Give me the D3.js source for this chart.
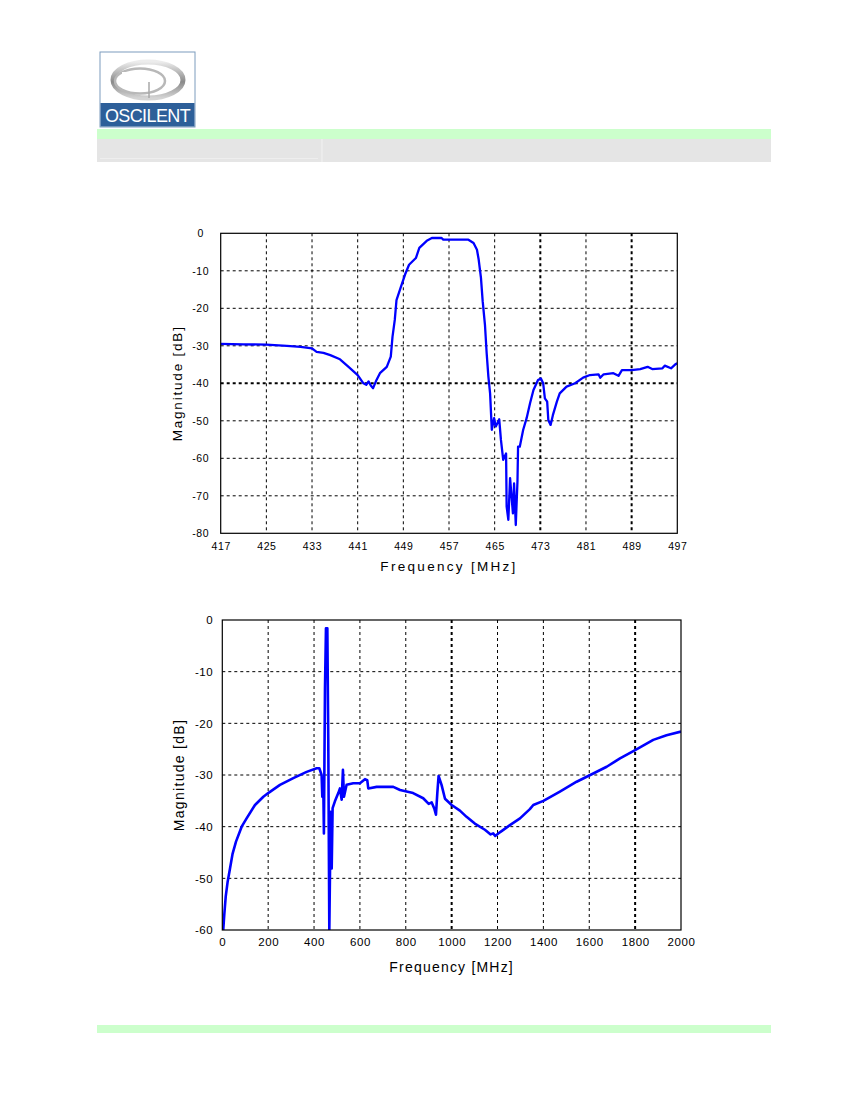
<!DOCTYPE html>
<html>
<head>
<meta charset="utf-8">
<script src="https://cdn.jsdelivr.net/npm/d3@7"></script>
<style>
  body { margin: 0; background: #fff; }
  svg { display: block; font-family: "Liberation Sans", Arial, sans-serif; }
</style>
</head>
<body>
<div id="page"></div>
<script>
// --- data ---
// narrow band sweep
const freq1 = [417, 421, 425, 428.6, 431, 433, 433.8, 435, 436.2, 437.9, 439.4, 441, 442, 442.5, 442.9, 443.3,
  443.7, 444.3, 444.9, 446.1, 446.8, 447.1, 447.5, 447.8, 448.5, 449.3, 450, 451.2, 451.8, 453.1, 454, 455.7,
  456, 458, 460.4, 461.3, 461.9, 462.2, 462.6, 462.9, 463.3, 463.6, 463.9, 464.2, 464.5, 464.9, 465.2, 465.5,
  465.8, 466.1, 466.5, 467, 467.1, 467.4, 467.7, 468.2, 468.4, 468.7, 469, 469.1, 469.4, 470, 470.6, 471.2,
  471.8, 472.6, 473.1, 473.5, 473.8, 474.2, 474.4, 474.8, 475.2, 475.9, 476.4, 477.6, 479.1, 480.5, 481.7, 483.2,
  483.5, 484.1, 485.8, 486.7, 487.3, 489, 490.5, 491.8, 492.6, 494.4, 494.8, 495.9, 496.7, 497];
const mag1 = [-29.5, -29.6, -29.7, -30.0, -30.3, -30.7, -31.6, -31.9, -32.5, -33.6, -35.6, -37.8, -40, -40.4, -39.5, -40.6,
  -41.3, -39.1, -37.3, -35.6, -32.9, -27.6, -23.1, -17.8, -14.6, -11, -8.4, -6.6, -3.9, -2, -1.25, -1.25,
  -1.7, -1.7, -1.7, -2.6, -4.4, -7, -11.9, -18.1, -24.4, -32, -38.2, -42.7, -52.4, -49.3, -51.5, -50.6,
  -49.6, -55.1, -60.4, -58.7, -72.9, -76.4, -65.3, -74.7, -66.7, -77.8, -66, -56.9, -56.9, -52.4, -49.3, -45.3,
  -41.8, -39.1, -38.7, -40, -44, -44.9, -49.8, -51.1, -48.5, -44.9, -42.7, -40.9, -40, -38.5, -37.8, -37.6,
  -38.5, -37.6, -37.3, -38, -36.5, -36.5, -36.2, -35.6, -36.2, -36, -35.3, -36, -34.9, -34.7];
const xTicks1 = [417, 425, 433, 441, 449, 457, 465, 473, 481, 489, 497];
const yTicks1 = [0, -10, -20, -30, -40, -50, -60, -70, -80];

// wide band sweep
const freq2 = [4, 9, 15, 23.5, 33.6, 45, 59.7, 84.4, 106, 142.5, 179, 200, 251.5, 309.6, 367.7, 411.5, 423, 433,
  436, 440, 443, 447.7, 452, 458, 462, 466.6, 472.6, 477, 481, 491, 505.7, 513, 520.5, 526, 530.5, 542, 571,
  600, 622, 632, 636.5, 673, 745.5, 775, 832, 876, 900, 913, 925, 931.6, 937.5, 943, 956, 971, 1000, 1036,
  1065, 1101, 1145, 1170, 1181, 1190, 1210, 1254, 1298, 1341, 1356, 1400, 1472, 1545, 1600, 1676, 1734, 1800,
  1879, 1937, 2000];
const mag2 = [-60, -56.8, -53.5, -50.6, -48.1, -45.2, -42.9, -40, -38.4, -35.8, -34.2, -33.5, -31.9, -30.6, -29.4, -28.7, -28.7, -30,
  -34.2, -31, -41.3, -13.2, -1.6, -1.6, -22.9, -60, -37.1, -48.1, -36.4, -35.1, -33.5, -32.6, -34.8, -29, -34.2, -31.9, -31.6,
  -31.6, -30.8, -31, -32.6, -32.3, -32.3, -32.9, -33.5, -34.5, -35.6, -35.3, -36.6, -37.7, -33.5, -30.2, -31.9, -34.6, -35.8, -36.9,
  -38.1, -39.4, -40.6, -41.5, -41.3, -41.8, -41.1, -39.7, -38.4, -36.6, -35.8, -35, -33.2, -31.3, -30.1, -28.4, -26.8, -25.2,
  -23.2, -22.3, -21.6];
const xTicks2 = [0, 200, 400, 600, 800, 1000, 1200, 1400, 1600, 1800, 2000];
const yTicks2 = [0, -10, -20, -30, -40, -50, -60];

const svg = d3.select("#page").append("svg")
  .attr("width", 850)
  .attr("height", 1100)
  .style("background", "white");
const defs = svg.append("defs");

// --- header / footer bands ---
svg.append("rect").attr("x", 97).attr("y", 129).attr("width", 674).attr("height", 10).attr("fill", "#ccffcc");
svg.append("rect").attr("x", 97).attr("y", 139).attr("width", 674).attr("height", 23).attr("fill", "#e5e5e5");
svg.append("line").attr("x1", 322).attr("x2", 322).attr("y1", 139).attr("y2", 162).attr("stroke", "#f2f2f2");
svg.append("line").attr("x1", 100).attr("x2", 318).attr("y1", 158.5).attr("y2", 158.5).attr("stroke", "#eeeeee");
svg.append("rect").attr("x", 97).attr("y", 1025).attr("width", 674).attr("height", 8).attr("fill", "#ccffcc");

// logo
const logo = svg.append("g").attr("transform", "translate(100,52)");
const grad = defs.append("linearGradient").attr("id", "ring").attr("x1", 0).attr("y1", 0).attr("x2", 0).attr("y2", 1);
grad.append("stop").attr("offset", "0%").attr("stop-color", "#ececec");
grad.append("stop").attr("offset", "55%").attr("stop-color", "#8a8a8a");
grad.append("stop").attr("offset", "100%").attr("stop-color", "#d4d4d4");
logo.append("rect").attr("width", 95).attr("height", 75).attr("fill", "#fff").attr("stroke", "#7d9cbd");
logo.append("ellipse").attr("cx", 48).attr("cy", 28).attr("rx", 35).attr("ry", 18)
  .attr("fill", "none").attr("stroke", "url(#ring)").attr("stroke-width", 5);
logo.append("ellipse").attr("cx", 40).attr("cy", 29).attr("rx", 25).attr("ry", 12.5)
  .attr("fill", "none").attr("stroke", "#b8b8b8").attr("stroke-width", 2.5);
logo.append("rect").attr("x", 22).attr("y", 20).attr("width", 22).attr("height", 16).attr("fill", "#fff");
logo.append("line").attr("x1", 49).attr("x2", 49).attr("y1", 30).attr("y2", 46).attr("stroke", "#a8a8a8").attr("stroke-width", 1.5);
logo.append("rect").attr("x", 0.5).attr("y", 51).attr("width", 94).attr("height", 23.5).attr("fill", "#2d5f99");
logo.append("text").attr("x", 47.5).attr("y", 69.5).attr("text-anchor", "middle")
  .attr("fill", "#fff").attr("font-size", 18).attr("letter-spacing", -0.6).text("OSCILENT");

// --- chart builder ---
function drawChart(cfg) {
  const g = svg.append("g");
  const x = d3.scaleLinear().domain(cfg.xDomain).range([cfg.left, cfg.right]);
  const y = d3.scaleLinear().domain(cfg.yDomain).range([cfg.bottom, cfg.top]);

  // grid
  g.selectAll(".vgrid").data(cfg.xTicks.slice(1, -1)).join("line")
    .attr("x1", d => x(d)).attr("x2", d => x(d))
    .attr("y1", cfg.top).attr("y2", cfg.bottom)
    .attr("stroke", "#000")
    .attr("stroke-width", d => cfg.heavyX.includes(d) ? 2 : 1)
    .attr("stroke-dasharray", "3,3");
  g.selectAll(".hgrid").data(cfg.yTicks.slice(1, -1)).join("line")
    .attr("x1", cfg.left).attr("x2", cfg.right)
    .attr("y1", d => y(d)).attr("y2", d => y(d))
    .attr("stroke", "#000")
    .attr("stroke-width", d => cfg.heavyY.includes(d) ? 2 : 1)
    .attr("stroke-dasharray", "3,3");

  // curve
  const clipId = "clip" + cfg.id;
  defs.append("clipPath").attr("id", clipId)
    .append("rect").attr("x", cfg.left).attr("y", cfg.top)
    .attr("width", cfg.right - cfg.left).attr("height", cfg.bottom - cfg.top);
  const line = d3.line().x(d => x(d[0])).y(d => y(d[1]));
  g.append("path")
    .datum(d3.zip(cfg.freq, cfg.mag))
    .attr("clip-path", `url(#${clipId})`)
    .attr("d", line)
    .attr("fill", "none")
    .attr("stroke", "#0000ff")
    .attr("stroke-width", cfg.lineWidth)
    .attr("stroke-linejoin", "round");

  // frame
  g.append("rect").attr("x", cfg.left).attr("y", cfg.top)
    .attr("width", cfg.right - cfg.left).attr("height", cfg.bottom - cfg.top)
    .attr("fill", "none").attr("stroke", "#000").attr("stroke-width", 1.2);

  // axes (labels only, plain hyphen minus)
  const xAxis = g.append("g").attr("transform", `translate(0,${cfg.bottom})`)
    .call(d3.axisBottom(x).tickValues(cfg.xTicks).tickSize(0).tickPadding(cfg.xPad).tickFormat(d => String(d)));
  const yAxis = g.append("g").attr("transform", `translate(${cfg.left},0)`)
    .call(d3.axisLeft(y).tickValues(cfg.yTicks).tickSize(0).tickPadding(cfg.yPad).tickFormat(d => String(d)));
  [xAxis, yAxis].forEach(a => {
    a.select(".domain").remove();
    a.selectAll("text").attr("font-family", "Liberation Sans, Arial, sans-serif")
      .attr("font-size", cfg.tickSize).attr("letter-spacing", cfg.tickSpacing).attr("fill", "#000");
  });
  if (cfg.yAnchor) yAxis.selectAll("text").attr("text-anchor", cfg.yAnchor);

  g.append("text").attr("x", (cfg.left + cfg.right) / 2).attr("y", cfg.xTitleY)
    .attr("text-anchor", "middle").attr("font-size", cfg.titleSize).attr("letter-spacing", cfg.titleSpacing)
    .text("Frequency [MHz]");
  g.append("text")
    .attr("transform", `translate(${cfg.yTitleX},${(cfg.top + cfg.bottom) / 2}) rotate(-90)`)
    .attr("text-anchor", "middle").attr("font-size", cfg.titleSize).attr("letter-spacing", cfg.yTitleSpacing)
    .text("Magnitude [dB]");
}

drawChart({
  id: 1, freq: freq1, mag: mag1, xTicks: xTicks1, yTicks: yTicks1,
  xDomain: [417, 497], yDomain: [-80, 0],
  left: 220.7, right: 677.3, top: 233.3, bottom: 533.3,
  heavyX: [473, 489], heavyY: [-40],
  xPad: 9, yPad: 20, yAnchor: "middle", tickSize: 10.5, tickSpacing: 0.6,
  titleSize: 13.5, titleSpacing: 2.3, yTitleSpacing: 1.8,
  xTitleY: 571, yTitleX: 182, lineWidth: 2.3
});

drawChart({
  id: 2, freq: freq2, mag: mag2, xTicks: xTicks2, yTicks: yTicks2,
  xDomain: [0, 2000], yDomain: [-60, 0],
  left: 222.3, right: 681, top: 620, bottom: 930,
  heavyX: [1000, 1800], heavyY: [],
  xPad: 8, yPad: 9, tickSize: 11.5, tickSpacing: 0.6,
  titleSize: 14, titleSpacing: 1.2, yTitleSpacing: 1.3,
  xTitleY: 972, yTitleX: 184, lineWidth: 2.6
});
</script>
</body>
</html>
